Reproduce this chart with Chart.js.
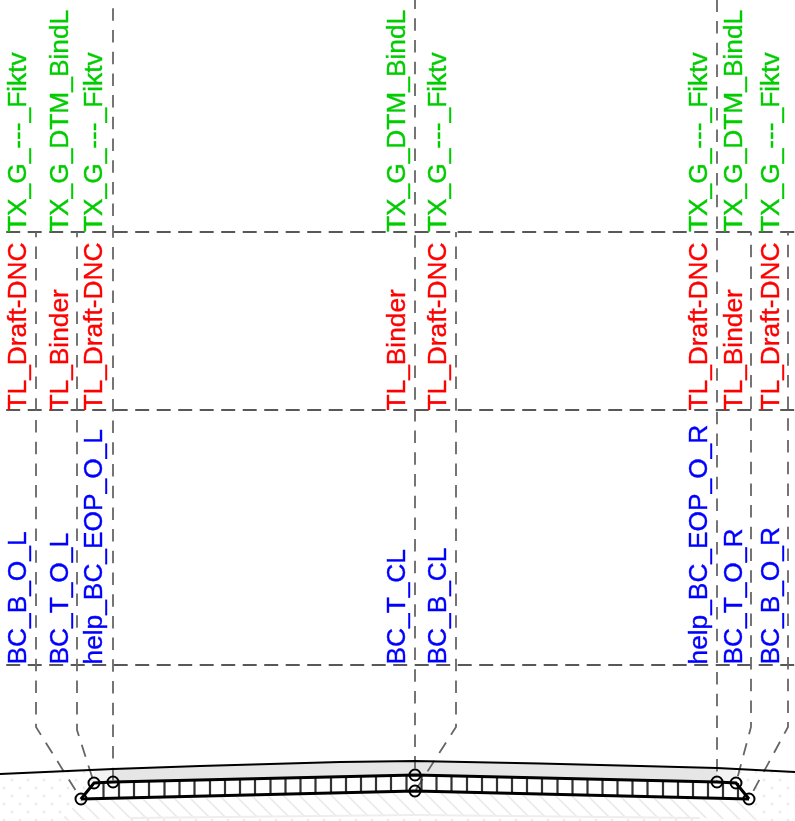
<!DOCTYPE html>
<html>
<head>
<meta charset="utf-8">
<title>Road section</title>
<script src="https://cdn.jsdelivr.net/npm/chart.js@4/dist/chart.umd.min.js"></script>
<style>
    html, body { margin: 0; padding: 0; background: #fff; }
    canvas { display: block; }
</style>
</head>
<body>
<canvas id="section" width="795" height="821"></canvas>
<script>
// label columns, x = text baseline, y = where the text starts
const labelColumns = [26, 68, 102, 405, 446, 707, 742, 779];
const greenLabels = ["TX_G_---_Fiktv", "TX_G_DTM_BindL", "TX_G_---_Fiktv", "TX_G_DTM_BindL", "TX_G_---_Fiktv", "TX_G_---_Fiktv", "TX_G_DTM_BindL", "TX_G_---_Fiktv"];
const redLabels = ["TL_Draft-DNC", "TL_Binder", "TL_Draft-DNC", "TL_Binder", "TL_Draft-DNC", "TL_Draft-DNC", "TL_Binder", "TL_Draft-DNC"];
const blueLabels = ["BC_B_O_L", "BC_T_O_L", "help_BC_EOP_O_L", "BC_T_CL", "BC_B_CL", "help_BC_EOP_O_R", "BC_T_O_R", "BC_B_O_R"];
const greenStart = 232;
const redStart = 410.5;
const blueStart = 664.5;

// horizontal rows of the label table
const rowLines = [232, 410, 665];

// leader lines, each [x, y] in section units
const leaders = [
    [[36, 232], [36, 727], [81, 799]],
    [[77, 232], [77, 730], [94, 783]],
    [[113, 0], [113, 782]],
    [[415, 0], [415, 775]],
    [[456, 232], [456, 727], [415, 791]],
    [[717, 0], [717, 782]],
    [[751, 232], [751, 727], [736, 783]],
    [[788, 232], [788, 727], [749, 799]]
];
const leaderPhase = [7.3, 7.3, 13.4, 3.4, 7.3, 0.6, 9, 9];

// section profile
const surfaceLine = [[0, 774], [113, 769], [200, 766], [340, 762], [415, 761], [540, 763.5], [640, 766], [717, 768], [795, 772]];
const baseTop = [[81, 799], [94, 783], [113, 782], [415, 775], [717, 782], [736, 783], [749, 799]];
const baseBottom = [[81, 799], [415, 791], [749, 799]];
const lowerBand = [[130, 818], [415, 815], [700, 818]];
const nodesX = [81, 94, 113, 415, 415, 717, 736, 749];
const nodesY = [799, 783, 782, 775, 791, 782, 783, 799];

// cell dividers of the base layer
const tickX = [103.5, 119, 134, 149, 164.5, 179.5, 194.5, 210, 225, 240, 255, 270.5, 285.5, 300.5, 315.5, 331, 346, 361, 376, 391, 406.5,
    421.5, 436.5, 451.5, 467, 482, 497, 512, 527, 542, 557.5, 572.5, 587.5, 602.5, 617.5, 632.5, 647.5, 663, 678, 693, 708, 723, 738];
const tickTop = [782.5, 781.9, 781.5, 781.2, 780.8, 780.5, 780.1, 779.8, 779.4, 779.1, 778.7, 778.3, 778, 777.7, 777.3, 776.9, 776.6, 776.3, 775.9, 775.6, 775.2,
    775.2, 775.5, 775.9, 776.2, 776.6, 776.9, 777.3, 777.6, 778, 778.3, 778.7, 779, 779.4, 779.7, 780, 780.4, 780.8, 781.1, 781.5, 781.8, 782.2, 783];
const tickBottom = [798.5, 798.1, 797.7, 797.4, 797, 796.6, 796.3, 795.9, 795.6, 795.2, 794.8, 794.5, 794.1, 793.7, 793.4, 793, 792.7, 792.3, 791.9, 791.6, 791.2,
    791.2, 791.5, 791.9, 792.2, 792.6, 793, 793.3, 793.7, 794, 794.4, 794.8, 795.1, 795.5, 795.8, 796.2, 796.6, 796.9, 797.3, 797.7, 798, 798.4, 798.7];

// filled areas
const grayLayer = [[113, 769], [200, 766], [340, 762], [415, 761], [540, 763.5], [640, 766], [717, 768], [717, 782], [415, 775], [113, 782]];
const paleLeft = [[94, 770], [113, 769], [113, 782], [94, 783]];
const paleRight = [[717, 768], [736, 769], [736, 783], [717, 782]];
const hatchArea = [[81, 799], [415, 791], [749, 799], [770, 821], [700, 818], [415, 815], [130, 818], [60, 821]];
const dotsLeft = [[0, 774], [94, 770], [94, 783], [81, 799], [60, 821], [0, 821]];
const dotsRight = [[795, 772], [736, 769], [736, 783], [749, 799], [770, 821], [795, 821]];
const dotsLower = [[130, 818], [415, 815], [700, 818], [700, 821], [130, 821]];

function toPoints(list) {
    return list.map(p => ({ x: p[0], y: p[1] }));
}

function hatchPattern() {
    const tile = document.createElement('canvas');
    tile.width = 16;
    tile.height = 16;
    const c = tile.getContext('2d');
    c.strokeStyle = '#ebebeb';
    c.lineWidth = 1.6;
    c.beginPath();
    c.moveTo(-4, -4);
    c.lineTo(20, 20);
    c.moveTo(-4, 12);
    c.lineTo(4, 20);
    c.moveTo(12, -4);
    c.lineTo(20, 4);
    c.stroke();
    return c.createPattern(tile, 'repeat');
}

function dotPattern() {
    const tile = document.createElement('canvas');
    tile.width = 16;
    tile.height = 16;
    const c = tile.getContext('2d');
    c.fillStyle = '#ececec';
    c.beginPath();
    c.arc(4, 4, 1.5, 0, Math.PI * 2);
    c.arc(12, 12, 1.5, 0, Math.PI * 2);
    c.fill();
    return c.createPattern(tile, 'repeat');
}

function area(list, color, order) {
    return { data: toPoints(list), showLine: true, fill: 'shape', backgroundColor: color, borderWidth: 0, pointRadius: 0, order: order };
}

function line(list, color, width, dash, phase, order) {
    return { data: toPoints(list), showLine: true, fill: false, borderColor: color, borderWidth: width, borderDash: dash, borderDashOffset: phase, pointRadius: 0, order: order };
}

const dividerPoints = [];
tickX.forEach((x, i) => {
    dividerPoints.push([x, tickTop[i]], [x, tickBottom[i]], [NaN, NaN]);
});

const datasets = [
    area(dotsLeft, dotPattern(), 9),
    area(dotsRight, dotPattern(), 9),
    area(dotsLower, dotPattern(), 9),
    area(hatchArea, hatchPattern(), 9),
    area(grayLayer, '#e6e6e6', 8),
    area(paleLeft, '#f3f3f3', 8),
    area(paleRight, '#f3f3f3', 8),
    line(lowerBand, '#eeeeee', 2, [], 0, 7)
];
rowLines.forEach(y => datasets.push(line([[0, y], [795, y]], '#222', 1.4, [14, 7.5], 15.3, 6)));
leaders.forEach((l, i) => datasets.push(line(l, '#666', 1.8, [12.5, 9.2], leaderPhase[i], 5)));
datasets.push(line(surfaceLine, '#000', 2, [], 0, 4));
datasets.push(line(dividerPoints, '#333', 2.2, [], 0, 3));
datasets.push(line(baseTop, '#000', 3, [], 0, 2));
datasets.push(line(baseBottom, '#000', 3, [], 0, 2));
datasets.push({
    data: nodesX.map((x, i) => ({ x: x, y: nodesY[i] })),
    pointRadius: 5.5,
    pointBorderColor: '#000',
    pointBackgroundColor: 'rgba(0,0,0,0)',
    pointBorderWidth: 2,
    order: 1
});

// vertical labels, placed through the chart's scales
const labelPlugin = {
    id: 'columnLabels',
    afterDatasetsDraw(chart) {
        const ctx = chart.ctx;
        const xs = chart.scales.x;
        const ys = chart.scales.y;
        const draw = (texts, start, color) => {
            texts.forEach((text, i) => {
                ctx.save();
                ctx.translate(xs.getPixelForValue(labelColumns[i]), ys.getPixelForValue(start));
                ctx.rotate(-Math.PI / 2);
                ctx.font = '26.3px "Liberation Sans"';
                ctx.fillStyle = color;
                ctx.strokeStyle = color;
                ctx.lineWidth = 0.4;
                ctx.textAlign = 'left';
                ctx.textBaseline = 'alphabetic';
                ctx.fillText(text, 0, 0);
                ctx.strokeText(text, 0, 0);
                ctx.restore();
            });
        };
        draw(greenLabels, greenStart, '#00cc00');
        draw(redLabels, redStart, '#ff0000');
        draw(blueLabels, blueStart, '#0000ff');
    }
};

new Chart(document.getElementById('section'), {
    type: 'scatter',
    data: { datasets: datasets },
    plugins: [labelPlugin],
    options: {
        responsive: false,
        animation: false,
        layout: { padding: 0, autoPadding: false },
        plugins: { legend: { display: false }, tooltip: { enabled: false } },
        scales: {
            x: { type: 'linear', min: 0, max: 795, display: false },
            y: { type: 'linear', min: 0, max: 821, reverse: true, display: false }
        }
    }
});
</script>
</body>
</html>
